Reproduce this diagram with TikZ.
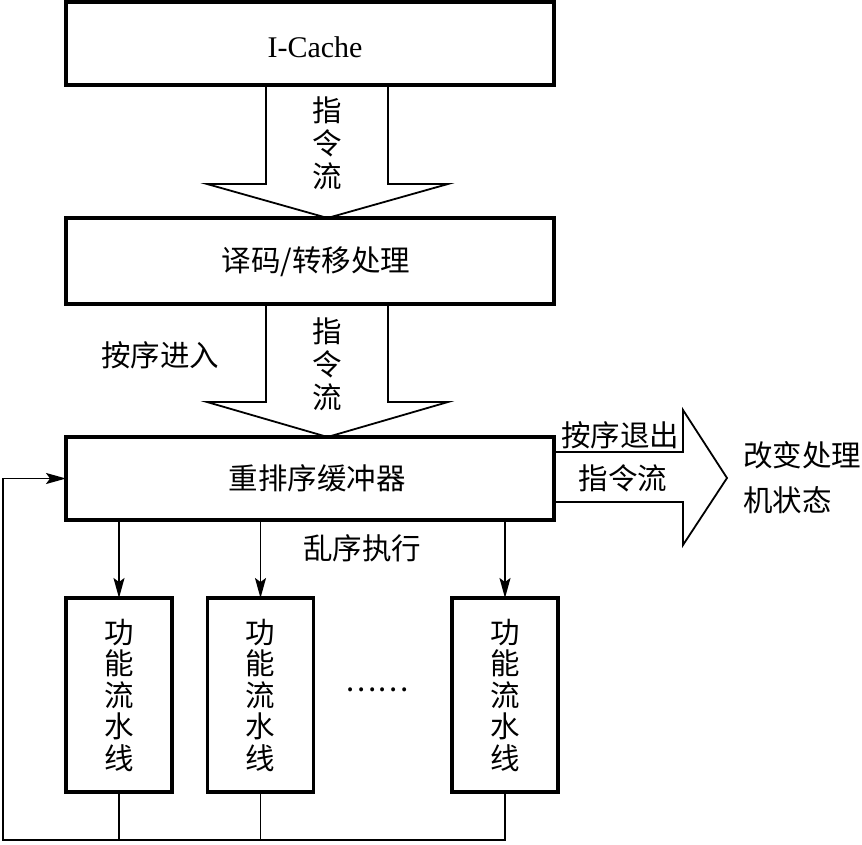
\documentclass[tikz,border=0pt]{standalone}
\usepackage{fontspec}
\setmainfont{Liberation Serif}
\newfontfamily\cjk{Noto Sans CJK SC}
\usetikzlibrary{arrows.meta,calc}
\begin{document}
\begin{tikzpicture}[x=1pt,y=-1pt,
  box/.style={draw, line width=3.5pt, inner sep=0pt, outer sep=0pt},
  fubox/.style={box, minimum width=106pt, minimum height=194pt},
  fat/.style={draw, line width=1.8pt, line join=miter},
  txt/.style={font=\cjk\fontsize{29.5}{33}\selectfont, inner sep=0pt, align=center},
  vtxt/.style={font=\cjk\fontsize{29.5}{31.5}\selectfont, inner sep=0pt, align=center},
  link/.style={line width=1.6pt},
  conn/.style={line width=1.6pt, -{Stealth[length=20pt,width=11pt,inset=4pt]}}]
\useasboundingbox (0,0) rectangle (862,844);

% main boxes
\node[box, minimum width=488pt, minimum height=83pt] (icache) at (310,43.5) {};
\node[box, minimum width=488pt, minimum height=86pt] (decode) at (310,261) {};
\node[box, minimum width=488pt, minimum height=83pt] (rob) at (310,478.5) {};
\node[font=\fontsize{30}{32}\selectfont, inner sep=0pt] (ticache) at (315,47) {I-Cache};
\node[txt] (tdecode) at (316,262) {译码/转移处理};
\node[txt] (trob) at (317,478) {重排序缓冲器};

% big arrow 1
\draw[fat] ($(icache.south)+(-44,0)$) -- ($(icache.south)+(-44,99)$)
  -- ($(icache.south)+(-103,99)$) -- ($(decode.north)+(17.5,0)$)
  -- ($(icache.south)+(138,99)$) -- ($(icache.south)+(78,99)$)
  -- ($(icache.south)+(78,0)$);
\node[txt] (ta1) at (327,143) {指\\令\\流};

% big arrow 2
\draw[fat] ($(decode.south)+(-44,0)$) -- ($(decode.south)+(-44,98)$)
  -- ($(decode.south)+(-103,98)$) -- ($(rob.north)+(17.5,0)$)
  -- ($(decode.south)+(138,98)$) -- ($(decode.south)+(78,98)$)
  -- ($(decode.south)+(78,0)$);
\node[txt] (ta2) at (327,364) {指\\令\\流};
\node[txt] (tin) at (160,355) {按序进入};

% right arrow
\draw[fat] ($(rob.east)+(0,-26.5)$) -- ($(rob.east)+(129,-26.5)$)
  -- ($(rob.east)+(129,-68.5)$) -- ($(rob.east)+(173,-0.5)$)
  -- ($(rob.east)+(129,66.5)$) -- ($(rob.east)+(129,23.5)$)
  -- ($(rob.east)+(0,23.5)$);
\node[txt] (tout) at (620,435) {按序退出};
\node[txt] (tflow) at (623,478) {指令流};
\node[txt, anchor=west] (tstate1) at (743,455) {改变处理};
\node[txt, anchor=west] (tstate2) at (743,500) {机状态};

% functional pipelines
\node[fubox] (fu1) at (119,695) {};
\node[fubox] (fu2) at (260.5,695) {};
\node[fubox] (fu3) at (505,695) {};
\node[vtxt] at (fu1) {功\\能\\流\\水\\线};
\node[vtxt] at (fu2) {功\\能\\流\\水\\线};
\node[vtxt] at (fu3) {功\\能\\流\\水\\线};
\node[txt] (tdots) at (377,690) {……};
\node[txt] (tooo) at (362,548) {乱序执行};

\draw[conn] (rob.south -| fu1) -- (fu1.north);
\draw[conn] (rob.south -| fu2) -- (fu2.north);
\draw[conn] (rob.south -| fu3) -- (fu3.north);

% feedback
\coordinate (fb) at (3,840);
\draw[link] (fu1.south) -- (fu1.south |- fb);
\draw[link] (fu2.south) -- (fu2.south |- fb);
\draw[conn] (fu3.south) -- (fu3.south |- fb) -- (fb) -- (fb |- rob.west) -- (rob.west);
\end{tikzpicture}
\end{document}
